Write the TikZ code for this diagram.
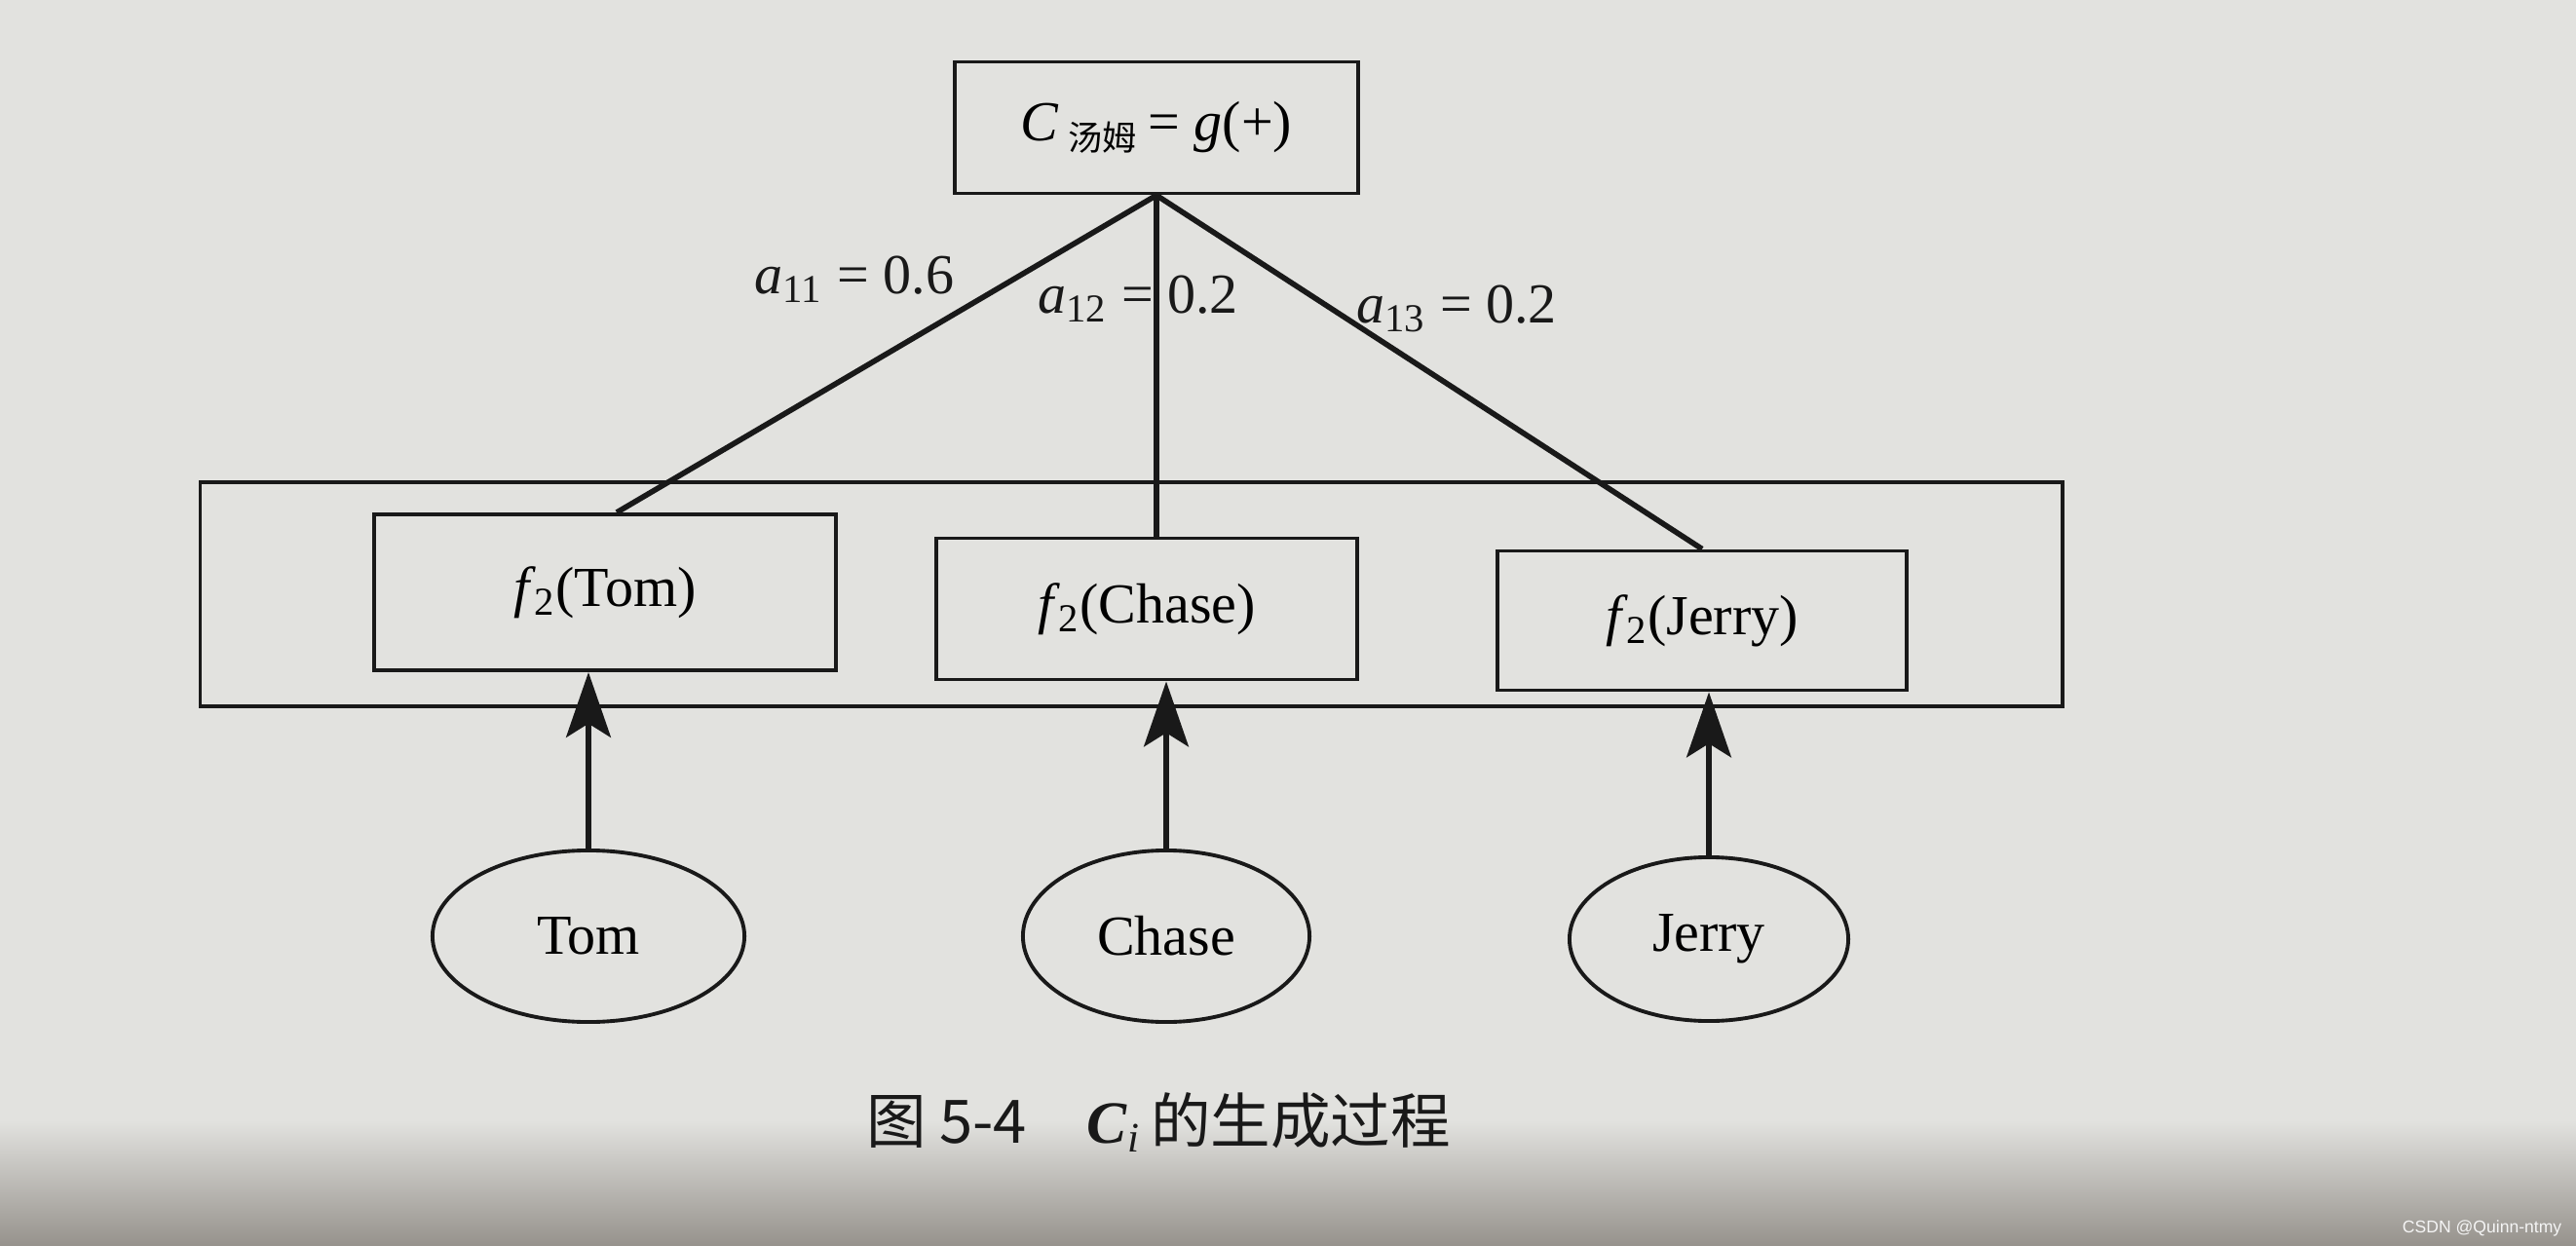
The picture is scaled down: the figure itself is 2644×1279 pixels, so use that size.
\documentclass[tikz,border=0pt]{standalone}
\usepackage{fontspec}
\setmainfont{Liberation Serif}
\newfontfamily\cjk{Noto Sans CJK SC}
\newfontfamily\wm{Liberation Sans}
\usetikzlibrary{arrows.meta,shapes.geometric,calc}
\definecolor{paper}{RGB}{226,226,223}
\definecolor{shadecol}{RGB}{150,146,140}
\definecolor{ink}{RGB}{25,25,25}
\begin{document}
\begin{tikzpicture}[x=0.01cm,y=-0.01cm,
  txt/.style={font=\fontsize{16.5}{19}\selectfont},
  box/.style={draw=ink,line width=1.1pt,rectangle,inner sep=0pt,txt},
  ell/.style={draw=ink,line width=1.1pt,ellipse,inner sep=0pt,txt},
  link/.style={draw=ink,line width=1.6pt},
  up/.style={draw=ink,line width=1.7pt,-{Stealth[length=19pt,width=13pt,inset=4pt]}},
  lab/.style={txt,inner sep=0pt,text=ink}]
\useasboundingbox (0,0) rectangle (2644,1279);
\fill[paper] (0,0) rectangle (2644,1279);
\shade[top color=paper,bottom color=shadecol] (0,1150) rectangle (2644,1279);
% container
\node[draw=ink,line width=1.1pt,rectangle,minimum width=19.1cm,minimum height=2.3cm] (outer) at (1161,610) {};
% top node
\node[box,minimum width=4.14cm,minimum height=1.35cm] (top) at (1187,131)
  {\textit{C}\,\textsubscript{\cjk\fontsize{10}{12}\selectfont 汤姆}\,= \textit{g}(+)};
% middle boxes
\node[box,minimum width=4.74cm,minimum height=1.6cm,fill=paper] (ftom) at (621,608) {\textit{f}\kern-0.5pt\textsubscript{2}(Tom)};
\node[box,minimum width=4.32cm,minimum height=1.45cm,fill=paper] (fchase) at (1177,625) {\textit{f}\kern-0.5pt\textsubscript{2}(Chase)};
\node[box,minimum width=4.19cm,minimum height=1.43cm,fill=paper] (fjerry) at (1747,637) {\textit{f}\kern-0.5pt\textsubscript{2}(Jerry)};
% ellipses
\node[ell,minimum width=3.2cm,minimum height=1.76cm] (tom) at (604,961) {Tom};
\node[ell,minimum width=2.94cm,minimum height=1.76cm] (chase) at (1197,961) {Chase};
\node[ell,minimum width=2.86cm,minimum height=1.68cm] (jerry) at (1754,964) {Jerry};
% links
\draw[link] (top.south) -- ($(ftom.north)+(12,0)$);
\draw[link] (top.south) -- (top.south |- fchase.north);
\draw[link] (top.south) -- (fjerry.north);
% arrows
\draw[up] (tom.north) -- (tom.north |- ftom.south);
\draw[up] (chase.north) -- (chase.north |- fchase.south);
\draw[up] (jerry.north) -- (jerry.north |- fjerry.south);
% labels
\node[lab] (l1) at (877,287) {\textit{a}\textsubscript{11} = 0.6};
\node[lab] (l2) at (1168,307) {\textit{a}\textsubscript{12} = 0.2};
\node[lab] (l3) at (1495,317) {\textit{a}\textsubscript{13} = 0.2};
% caption
\node[inner sep=0pt,text=ink,font=\fontsize{17.5}{20}\selectfont] (cap) at (1189,1152)
  {{\cjk 图 5-4}\quad\textbf{\textit{C}}\textsubscript{\textit{i}}\,{\cjk 的生成过程}};
% watermark
\node[anchor=east,inner sep=0pt,text=white!92!gray,font=\wm\fontsize{5}{6}\selectfont] (wm) at (2630,1261) {CSDN @Quinn-ntmy};
\end{tikzpicture}
\end{document}
